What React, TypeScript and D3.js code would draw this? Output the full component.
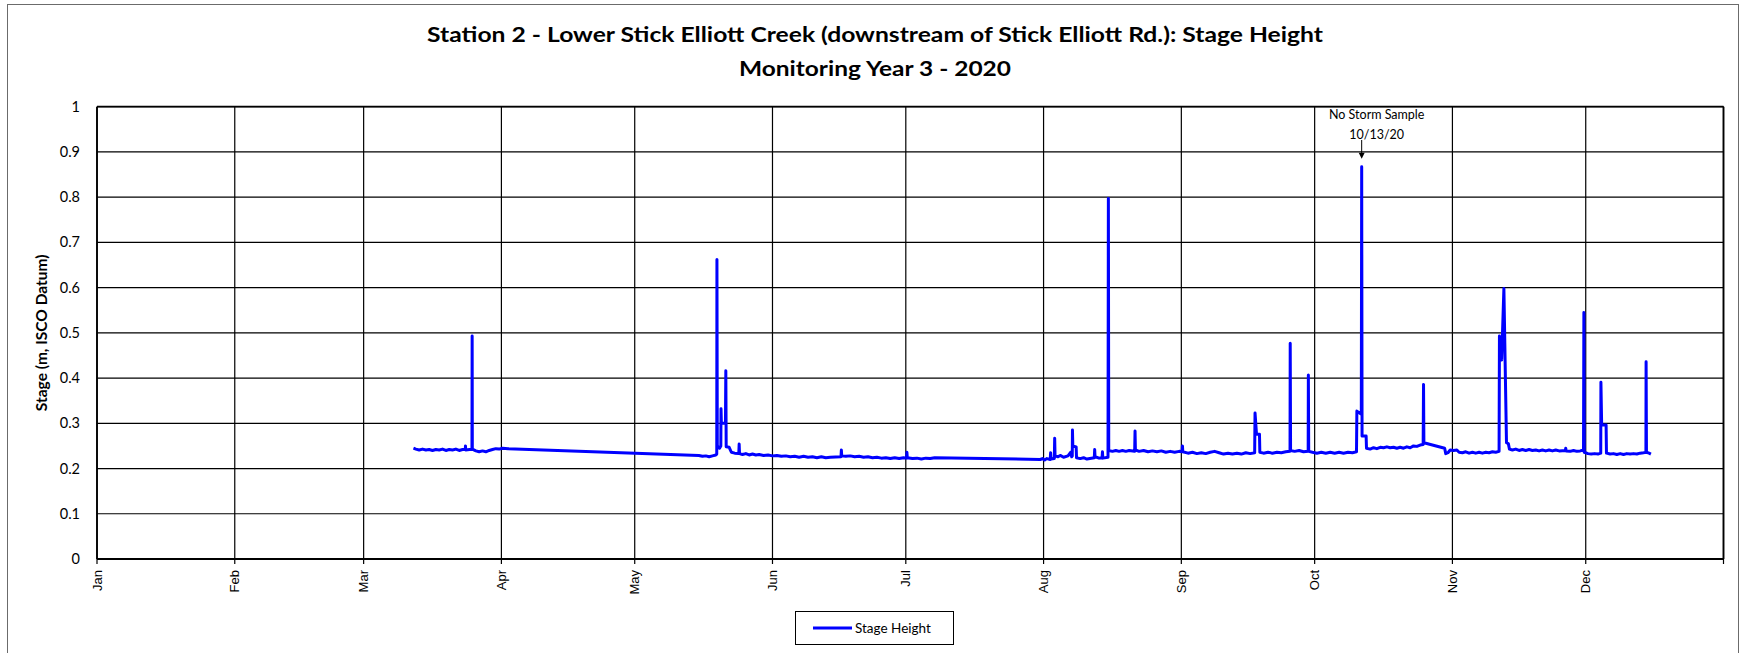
import React from "react";
import * as d3 from "d3";

const titleLines = [
  "Station 2 - Lower Stick Elliott Creek (downstream of Stick Elliott Rd.): Stage Height",
  "Monitoring Year 3 - 2020",
];
const yAxisTitle = "Stage (m, ISCO Datum)";
const seriesName = "Stage Height";
const monthLabels = ["Jan", "Feb", "Mar", "Apr", "May", "Jun", "Jul", "Aug", "Sep", "Oct", "Nov", "Dec"];
const yTicks = [0, 0.1, 0.2, 0.3, 0.4, 0.5, 0.6, 0.7, 0.8, 0.9, 1];
const annotationText = ["No Storm Sample", "10/13/20"];
const annotationDate = "2020-10-11 14:00";
const annotationValue = 0.867;

// [timestamp, stage (m)]
const seriesMarch: [string, number][] = [
  ["2020-03-12 05:00", 0.245], ["2020-03-12 18:00", 0.243], ["2020-03-13 12:00", 0.241],
  ["2020-03-14 06:00", 0.243], ["2020-03-15 00:00", 0.241], ["2020-03-15 18:00", 0.242],
  ["2020-03-16 12:00", 0.240], ["2020-03-17 06:00", 0.242], ["2020-03-18 00:00", 0.241],
  ["2020-03-18 18:00", 0.243], ["2020-03-19 12:00", 0.240], ["2020-03-20 06:00", 0.242],
  ["2020-03-21 00:00", 0.241], ["2020-03-21 18:00", 0.243], ["2020-03-22 12:00", 0.240],
  ["2020-03-23 06:00", 0.242], ["2020-03-23 21:00", 0.242], ["2020-03-23 22:00", 0.250],
  ["2020-03-23 23:00", 0.241], ["2020-03-24 20:00", 0.242], ["2020-03-25 09:00", 0.242],
  ["2020-03-25 10:00", 0.493], ["2020-03-25 11:00", 0.243],
  ["2020-03-26 06:00", 0.239], ["2020-03-27 00:00", 0.237], ["2020-03-27 18:00", 0.239],
  ["2020-03-28 12:00", 0.237], ["2020-03-29 06:00", 0.240], ["2020-03-30 00:00", 0.242],
  ["2020-03-30 18:00", 0.244], ["2020-03-31 12:00", 0.243], ["2020-04-01 06:00", 0.245],
  ["2020-04-02 12:00", 0.244],
];

const seriesMayJul: [string, number][] = [
  ["2020-05-15 10:00", 0.229], ["2020-05-16 06:00", 0.227], ["2020-05-17 00:00", 0.228],
  ["2020-05-17 18:00", 0.226], ["2020-05-18 12:00", 0.228], ["2020-05-19 06:00", 0.230],
  ["2020-05-19 11:00", 0.232], ["2020-05-19 12:00", 0.662], ["2020-05-19 14:00", 0.250],
  ["2020-05-20 02:00", 0.245], ["2020-05-20 09:00", 0.250], ["2020-05-20 10:00", 0.332],
  ["2020-05-20 12:00", 0.300], ["2020-05-21 10:00", 0.300], ["2020-05-21 12:00", 0.416],
  ["2020-05-21 14:00", 0.248], ["2020-05-22 06:00", 0.247], ["2020-05-22 18:00", 0.236],
  ["2020-05-23 12:00", 0.234], ["2020-05-24 10:00", 0.233], ["2020-05-24 12:00", 0.254],
  ["2020-05-24 14:00", 0.233], ["2020-05-25 06:00", 0.231], ["2020-05-26 00:00", 0.233],
  ["2020-05-26 18:00", 0.230], ["2020-05-27 12:00", 0.232], ["2020-05-28 06:00", 0.230],
  ["2020-05-29 00:00", 0.231], ["2020-05-30 00:00", 0.229], ["2020-05-31 00:00", 0.230],
  ["2020-06-01 00:00", 0.228], ["2020-06-02 00:00", 0.229], ["2020-06-03 00:00", 0.227],
  ["2020-06-04 00:00", 0.228], ["2020-06-05 00:00", 0.226], ["2020-06-06 00:00", 0.227],
  ["2020-06-07 00:00", 0.225], ["2020-06-08 00:00", 0.227], ["2020-06-09 00:00", 0.225],
  ["2020-06-10 00:00", 0.226], ["2020-06-11 00:00", 0.224], ["2020-06-12 00:00", 0.226],
  ["2020-06-13 00:00", 0.224], ["2020-06-14 00:00", 0.225], ["2020-06-16 10:00", 0.226],
  ["2020-06-16 12:00", 0.241], ["2020-06-16 14:00", 0.228], ["2020-06-17 12:00", 0.227],
  ["2020-06-18 12:00", 0.228], ["2020-06-19 12:00", 0.226], ["2020-06-20 12:00", 0.227],
  ["2020-06-21 12:00", 0.225], ["2020-06-22 12:00", 0.226], ["2020-06-23 12:00", 0.224],
  ["2020-06-24 12:00", 0.225], ["2020-06-25 12:00", 0.223], ["2020-06-26 12:00", 0.224],
  ["2020-06-27 12:00", 0.222], ["2020-06-28 12:00", 0.224], ["2020-06-29 12:00", 0.222],
  ["2020-06-30 12:00", 0.224], ["2020-07-01 04:00", 0.223], ["2020-07-01 06:00", 0.236],
  ["2020-07-01 08:00", 0.224], ["2020-07-02 12:00", 0.222], ["2020-07-03 12:00", 0.223],
  ["2020-07-04 12:00", 0.221], ["2020-07-05 12:00", 0.223], ["2020-07-06 12:00", 0.222],
  ["2020-07-07 12:00", 0.224],
];

const seriesAugDec: [string, number][] = [
  ["2020-07-31 06:00", 0.220], ["2020-07-31 18:00", 0.222], ["2020-08-01 06:00", 0.219],
  ["2020-08-01 18:00", 0.222], ["2020-08-02 12:00", 0.220], ["2020-08-02 14:00", 0.235],
  ["2020-08-02 16:00", 0.221], ["2020-08-03 10:00", 0.222], ["2020-08-03 12:00", 0.267],
  ["2020-08-03 14:00", 0.228], ["2020-08-04 06:00", 0.226], ["2020-08-04 18:00", 0.229],
  ["2020-08-05 12:00", 0.225], ["2020-08-06 12:00", 0.228], ["2020-08-07 02:00", 0.236],
  ["2020-08-07 08:00", 0.226], ["2020-08-07 11:00", 0.228], ["2020-08-07 12:00", 0.285],
  ["2020-08-07 14:00", 0.250], ["2020-08-08 08:00", 0.248], ["2020-08-08 10:00", 0.224],
  ["2020-08-09 06:00", 0.222], ["2020-08-10 00:00", 0.224], ["2020-08-10 18:00", 0.221],
  ["2020-08-12 10:00", 0.224], ["2020-08-12 12:00", 0.242], ["2020-08-12 14:00", 0.226],
  ["2020-08-13 12:00", 0.223], ["2020-08-14 04:00", 0.224], ["2020-08-14 06:00", 0.237],
  ["2020-08-14 08:00", 0.223], ["2020-08-15 12:00", 0.225], ["2020-08-15 14:00", 0.797],
  ["2020-08-15 16:00", 0.240], ["2020-08-16 12:00", 0.238], ["2020-08-17 06:00", 0.240],
  ["2020-08-18 00:00", 0.238], ["2020-08-18 18:00", 0.240], ["2020-08-19 12:00", 0.238],
  ["2020-08-20 06:00", 0.240], ["2020-08-21 12:00", 0.238], ["2020-08-21 14:00", 0.283],
  ["2020-08-21 16:00", 0.241], ["2020-08-22 12:00", 0.238], ["2020-08-23 12:00", 0.240],
  ["2020-08-24 12:00", 0.237], ["2020-08-25 12:00", 0.239], ["2020-08-26 12:00", 0.237],
  ["2020-08-27 12:00", 0.239], ["2020-08-28 12:00", 0.236], ["2020-08-29 12:00", 0.238],
  ["2020-08-30 12:00", 0.236], ["2020-08-31 12:00", 0.238], ["2020-09-01 04:00", 0.237],
  ["2020-09-01 06:00", 0.250], ["2020-09-01 08:00", 0.237], ["2020-09-02 12:00", 0.234],
  ["2020-09-03 12:00", 0.236], ["2020-09-04 12:00", 0.233], ["2020-09-05 12:00", 0.235],
  ["2020-09-06 12:00", 0.233], ["2020-09-07 12:00", 0.236], ["2020-09-08 12:00", 0.238],
  ["2020-09-09 12:00", 0.235], ["2020-09-10 12:00", 0.232], ["2020-09-11 12:00", 0.234],
  ["2020-09-12 12:00", 0.232], ["2020-09-13 12:00", 0.234], ["2020-09-14 12:00", 0.232],
  ["2020-09-15 12:00", 0.235], ["2020-09-16 12:00", 0.233], ["2020-09-17 12:00", 0.235],
  ["2020-09-17 14:00", 0.323], ["2020-09-17 22:00", 0.276], ["2020-09-18 14:00", 0.276],
  ["2020-09-18 16:00", 0.236], ["2020-09-19 12:00", 0.234], ["2020-09-20 12:00", 0.236],
  ["2020-09-21 12:00", 0.234], ["2020-09-22 12:00", 0.236], ["2020-09-23 12:00", 0.235],
  ["2020-09-24 12:00", 0.237], ["2020-09-25 11:00", 0.238], ["2020-09-25 12:00", 0.477],
  ["2020-09-25 14:00", 0.240], ["2020-09-26 12:00", 0.238], ["2020-09-27 12:00", 0.240],
  ["2020-09-28 12:00", 0.237], ["2020-09-29 13:00", 0.238], ["2020-09-29 14:00", 0.407],
  ["2020-09-29 16:00", 0.238], ["2020-09-30 12:00", 0.236], ["2020-10-01 12:00", 0.234],
  ["2020-10-02 12:00", 0.236], ["2020-10-03 12:00", 0.234], ["2020-10-04 12:00", 0.236],
  ["2020-10-05 12:00", 0.234], ["2020-10-06 12:00", 0.236], ["2020-10-07 12:00", 0.234],
  ["2020-10-08 12:00", 0.236], ["2020-10-09 12:00", 0.235], ["2020-10-10 10:00", 0.237],
  ["2020-10-10 12:00", 0.327], ["2020-10-11 12:00", 0.320], ["2020-10-11 14:00", 0.867],
  ["2020-10-11 16:00", 0.272], ["2020-10-12 14:00", 0.272], ["2020-10-12 16:00", 0.245],
  ["2020-10-13 12:00", 0.243], ["2020-10-14 06:00", 0.246], ["2020-10-15 00:00", 0.244],
  ["2020-10-15 18:00", 0.247], ["2020-10-16 12:00", 0.246], ["2020-10-17 06:00", 0.248],
  ["2020-10-18 00:00", 0.246], ["2020-10-18 18:00", 0.247], ["2020-10-19 12:00", 0.245],
  ["2020-10-20 06:00", 0.247], ["2020-10-21 00:00", 0.245], ["2020-10-21 18:00", 0.248],
  ["2020-10-22 12:00", 0.246], ["2020-10-23 06:00", 0.250], ["2020-10-24 00:00", 0.249],
  ["2020-10-24 18:00", 0.252], ["2020-10-25 10:00", 0.253], ["2020-10-25 12:00", 0.386],
  ["2020-10-25 14:00", 0.257], ["2020-10-30 06:00", 0.245], ["2020-10-30 12:00", 0.233],
  ["2020-10-31 00:00", 0.235], ["2020-10-31 12:00", 0.241], ["2020-11-01 06:00", 0.240],
  ["2020-11-02 00:00", 0.241], ["2020-11-02 12:00", 0.236], ["2020-11-03 06:00", 0.235],
  ["2020-11-04 00:00", 0.237], ["2020-11-04 18:00", 0.234], ["2020-11-05 12:00", 0.236],
  ["2020-11-06 06:00", 0.234], ["2020-11-07 00:00", 0.236], ["2020-11-07 18:00", 0.234],
  ["2020-11-08 12:00", 0.236], ["2020-11-09 06:00", 0.235], ["2020-11-10 00:00", 0.237],
  ["2020-11-10 18:00", 0.236], ["2020-11-11 12:00", 0.238], ["2020-11-11 14:00", 0.493],
  ["2020-11-12 02:00", 0.440], ["2020-11-12 14:00", 0.598], ["2020-11-13 04:00", 0.257],
  ["2020-11-13 14:00", 0.255], ["2020-11-13 20:00", 0.243], ["2020-11-14 12:00", 0.241],
  ["2020-11-15 06:00", 0.243], ["2020-11-16 00:00", 0.240], ["2020-11-16 18:00", 0.242],
  ["2020-11-17 12:00", 0.240], ["2020-11-18 06:00", 0.242], ["2020-11-19 00:00", 0.240],
  ["2020-11-19 18:00", 0.241], ["2020-11-20 12:00", 0.239], ["2020-11-21 06:00", 0.241],
  ["2020-11-22 00:00", 0.239], ["2020-11-22 18:00", 0.241], ["2020-11-23 12:00", 0.239],
  ["2020-11-24 06:00", 0.241], ["2020-11-25 00:00", 0.239], ["2020-11-26 10:00", 0.240],
  ["2020-11-26 12:00", 0.245], ["2020-11-26 14:00", 0.239], ["2020-11-27 12:00", 0.238],
  ["2020-11-28 06:00", 0.240], ["2020-11-29 00:00", 0.238], ["2020-11-29 18:00", 0.239],
  ["2020-11-30 12:00", 0.241], ["2020-11-30 14:00", 0.545], ["2020-11-30 16:00", 0.236],
  ["2020-12-01 12:00", 0.233], ["2020-12-02 06:00", 0.232], ["2020-12-03 00:00", 0.233],
  ["2020-12-03 18:00", 0.232], ["2020-12-04 09:00", 0.234], ["2020-12-04 10:00", 0.391],
  ["2020-12-04 14:00", 0.296], ["2020-12-05 14:00", 0.296], ["2020-12-05 16:00", 0.234],
  ["2020-12-06 12:00", 0.232], ["2020-12-07 06:00", 0.233], ["2020-12-08 00:00", 0.231],
  ["2020-12-08 18:00", 0.233], ["2020-12-09 12:00", 0.231], ["2020-12-10 06:00", 0.233],
  ["2020-12-11 00:00", 0.232], ["2020-12-11 18:00", 0.233], ["2020-12-12 12:00", 0.232],
  ["2020-12-13 06:00", 0.234], ["2020-12-14 00:00", 0.235], ["2020-12-14 13:00", 0.236],
  ["2020-12-14 14:00", 0.436], ["2020-12-14 16:00", 0.236], ["2020-12-15 06:00", 0.234],
  ["2020-12-15 16:00", 0.232],
];

const W = 1741;
const H = 653;
const M = { left: 97, right: 1723.5, top: 106.7, bottom: 559 };
const FONT = "Lato, 'Open Sans', sans-serif";

export default function App() {
  const parse = d3.timeParse("%Y-%m-%d %H:%M");
  const data = [...seriesMarch, ...seriesMayJul, ...seriesAugDec].map(([t, v]) => ({
    date: parse(t) as Date,
    value: v,
  }));

  const x = d3
    .scaleTime()
    .domain([new Date(2020, 0, 1), new Date(2021, 0, 1)])
    .range([M.left, M.right]);
  const y = d3.scaleLinear().domain([0, 1]).range([M.bottom, M.top]);

  const monthTicks = d3.timeMonth.range(new Date(2020, 0, 1), new Date(2021, 0, 2));
  const line = d3
    .line<{ date: Date; value: number }>()
    .x((d) => x(d.date))
    .y((d) => y(d.value));

  const ax = x(parse(annotationDate) as Date);
  const ay = y(annotationValue);

  return (
    <svg
      width={W}
      height={H}
      style={{ position: "absolute", left: 0, top: 0, background: "#fff" }}
      fontFamily={FONT}
    >
      <rect x={0} y={0} width={W} height={H} fill="#fff" />
      <rect x={7.5} y={4.5} width={1731} height={660} fill="none" stroke="#6b6b6b" strokeWidth={1} />

      {/* title */}
      <text x={875} y={42} textAnchor="middle" fontSize={20} fontWeight="bold" fill="#000"
        textLength={896} lengthAdjust="spacingAndGlyphs">
        {titleLines[0]}
      </text>
      <text x={875} y={76} textAnchor="middle" fontSize={20} fontWeight="bold" fill="#000"
        textLength={272} lengthAdjust="spacingAndGlyphs">
        {titleLines[1]}
      </text>

      {/* horizontal gridlines */}
      {yTicks.map((t) => (
        <line key={"h" + t} x1={M.left} x2={M.right} y1={y(t)} y2={y(t)} stroke="#000" strokeWidth={1.2} />
      ))}
      {/* vertical gridlines */}
      {monthTicks.map((d, i) => (
        <line key={"v" + i} x1={x(d)} x2={x(d)} y1={M.top} y2={M.bottom} stroke="#000" strokeWidth={1.2} />
      ))}
      {/* axis ticks below x-axis */}
      {monthTicks.map((d, i) => (
        <line key={"t" + i} x1={x(d)} x2={x(d)} y1={M.bottom} y2={M.bottom + 5} stroke="#000" strokeWidth={1.2} />
      ))}
      {/* axes / border */}
      <line x1={M.left} x2={M.right} y1={M.bottom} y2={M.bottom} stroke="#000" strokeWidth={2.2} />
      <line x1={M.left} x2={M.left} y1={M.top} y2={M.bottom} stroke="#000" strokeWidth={1.8} />
      <line x1={M.left} x2={M.right} y1={M.top} y2={M.top} stroke="#000" strokeWidth={1.8} />
      <line x1={M.right} x2={M.right} y1={M.top} y2={M.bottom} stroke="#000" strokeWidth={1.8} />

      {/* y tick labels */}
      {yTicks.map((t) => (
        <text key={"yl" + t} x={80} y={y(t)} dy="0.35em" textAnchor="end" fontSize={14.5} fill="#000">
          {String(t)}
        </text>
      ))}
      {/* x tick labels */}
      {monthTicks.slice(0, 12).map((d, i) => (
        <text
          key={"xl" + i}
          transform={`translate(${x(d)},${M.bottom + 11}) rotate(-90)`}
          textAnchor="end"
          dy="0.35em"
          fontSize={13}
          fontFamily="'Liberation Sans', Arial, sans-serif"
          fill="#000"
        >
          {monthLabels[i]}
        </text>
      ))}

      {/* y-axis title */}
      <text
        transform={`translate(42,${(M.top + M.bottom) / 2}) rotate(-90)`}
        textAnchor="middle"
        dy="0.35em"
        fontSize={15.5}
        fontWeight="bold"
        fill="#000"
      >
        {yAxisTitle}
      </text>

      {/* series */}
      <path d={line(data) || ""} fill="none" stroke="#0000ff" strokeWidth={3} strokeLinejoin="round" />

      {/* annotation */}
      <text x={ax + 15} y={119} textAnchor="middle" fontSize={12.5} fill="#000">
        {annotationText[0]}
      </text>
      <text x={ax + 15} y={139} textAnchor="middle" fontSize={12.5} fill="#000">
        {annotationText[1]}
      </text>
      <line x1={ax} x2={ax} y1={140} y2={ay - 12} stroke="#000" strokeWidth={1} />
      <path d={`M${ax - 3},${ay - 14} L${ax + 3},${ay - 14} L${ax},${ay - 8} Z`} fill="#000" />

      {/* legend */}
      <rect x={795.5} y={611.5} width={158} height={33} fill="#fff" stroke="#000" strokeWidth={1} />
      <line x1={813} x2={852} y1={628} y2={628} stroke="#0000ff" strokeWidth={3} />
      <text x={855} y={628} dy="0.35em" fontSize={13.5} fill="#000">
        {seriesName}
      </text>
    </svg>
  );
}
